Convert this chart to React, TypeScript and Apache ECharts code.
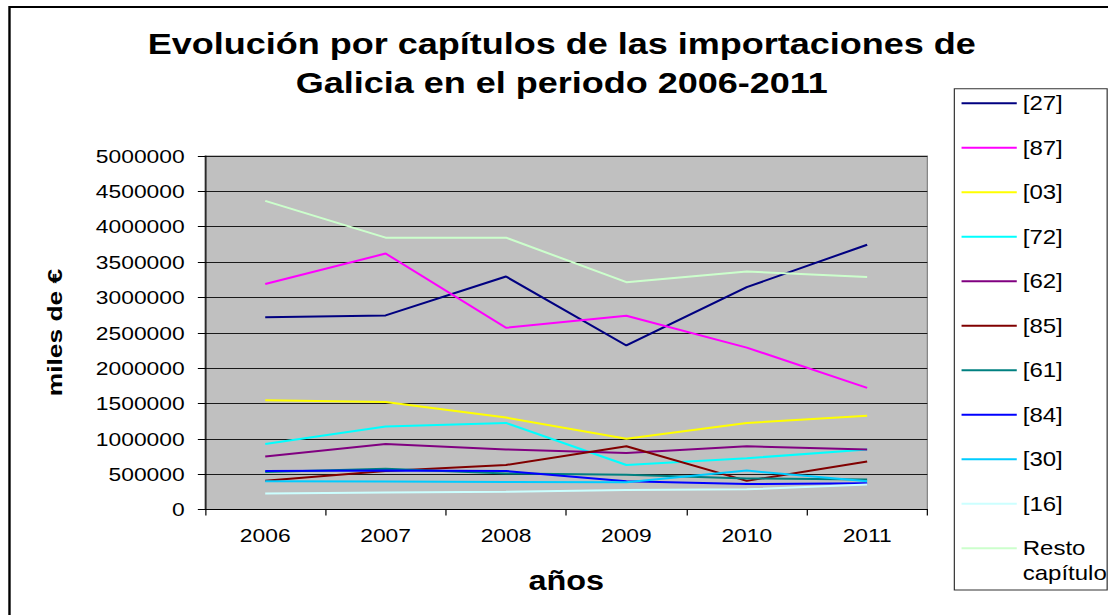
import { useEffect, useRef } from "react";
import * as echarts from "echarts";

const years = ["2006", "2007", "2008", "2009", "2010", "2011"];

const s27 = [2720000, 2745000, 3295000, 2320000, 3145000, 3745000];
const s87 = [3190000, 3620000, 2570000, 2740000, 2290000, 1720000];
const s03 = [1545000, 1520000, 1300000, 1000000, 1225000, 1325000];
const s72 = [925000, 1175000, 1225000, 630000, 725000, 850000];
const s62 = [750000, 925000, 850000, 800000, 895000, 850000];
const s85 = [405000, 545000, 630000, 895000, 405000, 680000];
const s61 = [530000, 575000, 510000, 490000, 440000, 425000];
const s84 = [545000, 550000, 545000, 400000, 360000, 370000];
const s30 = [400000, 395000, 390000, 385000, 550000, 400000];
const s16 = [225000, 240000, 250000, 275000, 285000, 355000];
const sResto = [4365000, 3845000, 3845000, 3215000, 3365000, 3290000];

const seriesNames = ["[27]", "[87]", "[03]", "[72]", "[62]", "[85]", "[61]", "[84]", "[30]", "[16]", "Resto capítulo"];
const seriesData = [s27, s87, s03, s72, s62, s85, s61, s84, s30, s16, sResto];
const seriesColors = ["#000080", "#FF00FF", "#FFFF00", "#00FFFF", "#800080", "#800000", "#008080", "#0000FF", "#00CCFF", "#CCFFFF", "#CCFFCC"];

const titleText = "Evolución por capítulos de las importaciones de\nGalicia en el periodo 2006-2011";
const yName = "miles de €";
const xName = "años";

const yMin = 0;
const yMax = 5000000;
const yStep = 500000;

const FONT = "Arial, 'Liberation Sans', sans-serif";
const W = 923;
const H = 615;
const S = 1108 / W;

export default function App() {
  const ref = useRef<HTMLDivElement>(null);

  useEffect(() => {
    if (!ref.current) return;
    const chart = echarts.init(ref.current, null, { renderer: "svg" });
    const option: any = {
      animation: false,
      backgroundColor: "#ffffff",
      grid: {
        left: 170.8,
        right: W - 772.5,
        top: 156,
        bottom: H - 509.5,
        show: true,
        backgroundColor: "#C0C0C0",
        borderColor: "#808080",
        borderWidth: 1,
        containLabel: false,
      },
      xAxis: {
        type: "category",
        data: years,
        boundaryGap: true,
        axisLine: { show: true, lineStyle: { color: "#000", width: 1 } },
        axisTick: { show: true, alignWithLabel: false, length: 6, lineStyle: { color: "#000" } },
        axisLabel: { fontSize: 19, fontFamily: FONT, color: "#000", margin: 16 },
        splitLine: { show: false },
      },
      yAxis: {
        type: "value",
        min: yMin,
        max: yMax,
        interval: yStep,
        axisLine: { show: true, lineStyle: { color: "#000", width: 1 } },
        axisTick: { show: true, length: 6, lineStyle: { color: "#000" } },
        axisLabel: {
          fontSize: 19,
          fontFamily: FONT,
          color: "#000",
          margin: 17,
          formatter: (v: number) => String(v),
        },
        splitLine: { show: true, lineStyle: { color: "#1a1a1a", width: 1 } },
      },
      legend: {
        orient: "vertical",
        left: 801,
        top: 93.3,
        padding: 0,
        icon: "rect",
        itemWidth: 46,
        itemHeight: 2,
        itemGap: 24.5,
        selectedMode: false,
        z: 10,
        textStyle: { fontSize: 20, lineHeight: 20, fontFamily: FONT, color: "#000" },
        formatter: (n: string) => (n === "Resto capítulo" ? "Resto" : n),
        data: seriesNames,
      },
      graphic: [
        {
          type: "rect",
          z: 0,
          silent: true,
          shape: { x: 7.9, y: 7, width: 1000, height: 700 },
          style: { fill: "none", stroke: "#000", lineWidth: 2 },
        },
        {
          type: "rect",
          z: 1,
          silent: true,
          shape: { x: 795, y: 88.7, width: 127.3, height: 501.3 },
          style: { fill: "#fff", stroke: "#333", lineWidth: 1 },
        },
        {
          type: "text",
          z: 11,
          silent: true,
          x: 852,
          y: 573.3,
          style: { text: "capítulo", fontSize: 20, fontFamily: FONT, fill: "#000", align: "left", verticalAlign: "middle" },
        },
        {
          type: "text",
          z: 11,
          silent: true,
          x: 468,
          y: 23.75,
          style: {
            text: titleText,
            fontSize: 30,
            fontWeight: "bold",
            fontFamily: FONT,
            lineHeight: 39.5,
            fill: "#000",
            align: "center",
            verticalAlign: "top",
          },
        },
        {
          type: "text",
          z: 11,
          silent: true,
          x: 471.7,
          y: 580.7,
          style: { text: xName, fontSize: 27, fontWeight: "bold", fontFamily: FONT, fill: "#000", align: "center", verticalAlign: "middle" },
        },
        {
          type: "text",
          z: 11,
          silent: true,
          x: 46,
          y: 332.5,
          rotation: Math.PI / 2,
          scaleX: 1.32,
          scaleY: 0.85,
          style: { text: yName, fontSize: 20, fontWeight: "bold", fontFamily: FONT, fill: "#000", align: "center", verticalAlign: "middle" },
        },
      ],
      series: seriesNames.map((name, i) => ({
        name,
        type: "line",
        data: seriesData[i],
        symbol: "none",
        showSymbol: false,
        color: seriesColors[i],
        lineStyle: { color: seriesColors[i], width: 2 },
        emphasis: { disabled: true },
      })),
    };
    chart.setOption(option);
    return () => chart.dispose();
  }, []);

  return (
    <div
      ref={ref}
      style={{
        position: "fixed",
        left: 0,
        top: 0,
        width: W,
        height: H,
        transform: `scaleX(${S})`,
        transformOrigin: "0 0",
        background: "#fff",
      }}
    />
  );
}
